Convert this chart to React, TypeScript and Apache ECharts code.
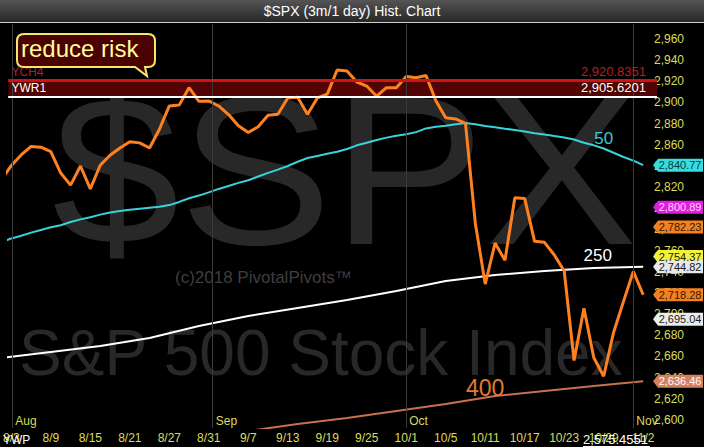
import React, { useEffect, useRef } from "react";
import * as echarts from "echarts";

// ---------- data ----------
const dates = [
  "8/2", "8/3", "8/6", "8/7", "8/8", "8/9", "8/10", "8/13", "8/14", "8/15", "8/16", "8/17",
  "8/20", "8/21", "8/22", "8/23", "8/24", "8/27", "8/28", "8/29", "8/30", "8/31",
  "9/4", "9/5", "9/6", "9/7", "9/10", "9/11", "9/12", "9/13", "9/14", "9/17", "9/18", "9/19",
  "9/20", "9/21", "9/24", "9/25", "9/26", "9/27", "9/28",
  "10/1", "10/2", "10/3", "10/4", "10/5", "10/8", "10/9", "10/10", "10/11", "10/12",
  "10/15", "10/16", "10/17", "10/18", "10/19", "10/22", "10/23", "10/24", "10/25", "10/26",
  "10/29", "10/30", "10/31", "11/1", "11/2",
];

const closes = [
  2827.22, 2840.35, 2850.4, 2858.45, 2857.7, 2853.58, 2833.28, 2821.93, 2839.96, 2818.37, 2840.69, 2850.13,
  2857.05, 2862.96, 2861.82, 2856.98, 2874.69, 2896.74, 2897.52, 2914.04, 2901.13, 2901.52,
  2896.72, 2888.6, 2878.05, 2871.68, 2877.13, 2887.89, 2888.92, 2904.18, 2904.98, 2888.8, 2904.31, 2907.95,
  2930.75, 2929.67, 2919.37, 2915.56, 2905.97, 2914.0, 2913.98,
  2924.59, 2923.43, 2925.51, 2901.61, 2885.57, 2884.43, 2880.34, 2785.68, 2728.37, 2767.13,
  2750.79, 2809.92, 2809.21, 2768.78, 2767.78, 2755.88, 2740.69, 2656.1, 2705.57, 2658.69,
  2641.25, 2682.63, 2711.74, 2740.37, 2718.28,
];

const ma50 = [
  2768, 2771.5, 2774, 2777, 2779.5, 2782, 2784, 2787, 2789.5, 2791.5, 2794, 2796, 2797.5, 2798.5,
  2799.5, 2800.5, 2801.5, 2803, 2806, 2809.5, 2812, 2815,
  2818.3, 2821, 2824, 2826.5, 2830, 2833.5, 2836.5, 2840, 2844, 2847.5, 2849.5, 2851.5, 2853.5, 2856,
  2859.5, 2862, 2864.5, 2866.8, 2868.5, 2870,
  2872, 2875.5, 2877, 2878, 2879.5, 2880.6, 2879.5, 2877.8, 2876.5, 2875.2, 2874, 2872.5, 2871,
  2869.8, 2868.3, 2867, 2865, 2862, 2859.5, 2856.5, 2852.5, 2848.5, 2845, 2840.77,
];

const ma250Points: [string, number][] = [
  ["8/2", 2658.5], ["8/9", 2664.2], ["8/16", 2669.8], ["8/23", 2677.4], ["8/30", 2688.7],
  ["9/7", 2698.2], ["9/14", 2705.7], ["9/21", 2713.3], ["9/28", 2721.8], ["10/5", 2731.3],
  ["10/12", 2737.0], ["10/19", 2740.7], ["10/26", 2743.6], ["11/2", 2744.82],
];

const ma400Points: [string, number][] = [
  ["9/7", 2589.5], ["9/14", 2596.1], ["9/21", 2601.8], ["9/28", 2608.4], ["10/5", 2615.0],
  ["10/12", 2622.6], ["10/19", 2627.3], ["10/26", 2632.0], ["11/2", 2636.46],
];

const xTickDates = ["8/3", "8/9", "8/15", "8/21", "8/27", "8/31", "9/7", "9/13", "9/19", "9/25",
  "10/1", "10/5", "10/11", "10/17", "10/23", "10/29", "11/2"];

const yTicks = [2600, 2620, 2640, 2660, 2680, 2700, 2720, 2740, 2760, 2780, 2800, 2820, 2840,
  2860, 2880, 2900, 2920, 2940, 2960];

const months = ["Aug", "Sep", "Oct", "Nov"];
const monthLineAt = [1.1, 21.4, 41, 64]; // trading-day positions

const levelYCH4 = 2920.8351;
const levelYWR1 = 2905.6201;
const levelYWP = 2575.4551;

const badgeValues = [2840.77, 2800.89, 2782.23, 2754.37, 2744.82, 2718.28, 2695.04, 2636.46];

// ---------- styles ----------
const FONT = '"Liberation Sans", Arial, sans-serif';
const AXIS_YELLOW = "#dcdc5a";
const badgeStyles = [
  { bg: "#36dde0", fg: "#0a3a3c" },
  { bg: "#e01ee0", fg: "#ffd8ff" },
  { bg: "#f08020", fg: "#3a1800" },
  { bg: "#f2f23c", fg: "#202000" },
  { bg: "#e8e8e8", fg: "#202020" },
  { bg: "#f08020", fg: "#3a1800" },
  { bg: "#ececec", fg: "#202020" },
  { bg: "#d4805c", fg: "#ffffff" },
];

const X_MIN = 0.7;
const X_MAX = 66.4;
const Y_MIN = 2592.3;
const Y_MAX = 2974.2;

const fmt2 = (v: number) => v.toLocaleString("en-US", { minimumFractionDigits: 2, maximumFractionDigits: 2 });
const fmt4 = (v: number) => v.toLocaleString("en-US", { minimumFractionDigits: 4, maximumFractionDigits: 4 });

const CALLOUT_D =
  "M7 0 H131 Q138 0 138 7 V26 Q138 33 131 33 H128 L130 42 L118 33 H7 Q0 33 0 26 V7 Q0 0 7 0 Z";

export default function App() {
  const ref = useRef<HTMLDivElement>(null);

  useEffect(() => {
    if (!ref.current) return;
    echarts.graphic.registerShape("callout", echarts.graphic.extendPath(CALLOUT_D, {}));
    const chart = echarts.init(ref.current, null, { renderer: "svg" });

    const idx = (d: string) => dates.indexOf(d);

    const option: any = {
      animation: false,
      backgroundColor: "#000000",
      grid: { left: 0, right: 47, top: 24, bottom: 19 },
      xAxis: {
        type: "value",
        min: X_MIN,
        max: X_MAX,
        axisLine: { show: false },
        axisTick: { show: false },
        splitLine: { show: false },
        axisLabel: {
          customValues: xTickDates.map(idx),
          formatter: (v: number) => dates[Math.round(v)],
          color: AXIS_YELLOW,
          fontSize: 12,
          fontFamily: FONT,
          margin: 4,
        },
      },
      yAxis: {
        type: "value",
        position: "right",
        min: Y_MIN,
        max: Y_MAX,
        axisLine: { show: false },
        axisTick: { show: false },
        splitLine: { show: false },
        axisLabel: {
          customValues: yTicks,
          formatter: (v: number) => v.toLocaleString("en-US"),
          color: AXIS_YELLOW,
          fontSize: 12,
          fontFamily: FONT,
          margin: -3,
        },
      },
      graphic: [
        {
          type: "text", x: 52, y: 170, z: 0, scaleX: 1.08,
          style: { text: "$SPX", font: `212px ${FONT}`, fill: "#282828", verticalAlign: "middle", align: "left" },
        },
        {
          type: "text", x: 19, y: 353, z: 0,
          style: { text: "S&P 500 Stock Index", font: `64px ${FONT}`, fill: "#282828", verticalAlign: "middle", align: "left" },
        },
        {
          type: "text", x: 175, y: 277, z: 0,
          style: { text: "(c)2018 PivotalPivots\u2122", font: `17px ${FONT}`, fill: "#3e3e3e", verticalAlign: "middle", align: "left" },
        },
        {
          type: "rect", z: 50, shape: { x: 0, y: 0, width: 704, height: 22 },
          style: {
            fill: new echarts.graphic.LinearGradient(0, 0, 0, 1, [
              { offset: 0, color: "#555555" },
              { offset: 1, color: "#262626" },
            ]),
          },
        },
        { type: "rect", z: 51, shape: { x: 0, y: 22, width: 704, height: 1 }, style: { fill: "#cfcfcf" } },
        {
          type: "text", x: 352, y: 11, z: 52,
          style: { text: "$SPX (3m/1 day) Hist. Chart", font: `14px ${FONT}`, fill: "#ffffff", align: "center", verticalAlign: "middle" },
        },
        {
          type: "callout", x: 17, y: 34, z: 60,
          style: { fill: "#4a0202", stroke: "#f4e868", lineWidth: 2 },
        },
        {
          type: "text", x: 21, y: 48, z: 61,
          style: { text: "reduce risk", font: `24px ${FONT}`, fill: "#ffff96", align: "left", verticalAlign: "middle" },
        },
        {
          type: "text", x: 3, y: 440, z: 61,
          style: { text: "YWP", font: `12px ${FONT}`, fill: "#ffffff", align: "left", verticalAlign: "middle" },
        },
        {
          type: "text", x: 648, y: 439, z: 61,
          style: { text: fmt4(levelYWP), font: `13px ${FONT}`, fill: "#ffffff", align: "right", verticalAlign: "middle" },
        },
        { type: "rect", z: 61, shape: { x: 583, y: 446, width: 67, height: 1 }, style: { fill: "#ffffff" } },
      ],
      series: [
        {
          name: "levels",
          type: "line",
          data: [],
          z: 1,
          markArea: {
            silent: true,
            itemStyle: { color: "#520303" },
            data: [[{ yAxis: levelYWR1 }, { yAxis: levelYCH4 }]],
          },
          markLine: {
            silent: true,
            symbol: "none",
            animation: false,
            data: [
              ...monthLineAt.map((p) => ({
                xAxis: p,
                lineStyle: { color: "#3a3a3a", width: 1, type: "solid" },
                label: { show: false },
              })),
              {
                yAxis: levelYCH4,
                lineStyle: { color: "#cc1515", width: 3, type: "solid" },
                label: { show: true, position: "insideStartTop", formatter: "YCH4", color: "#b81e1e", fontSize: 12, fontFamily: FONT, distance: [3, 2] },
              },
              {
                yAxis: levelYCH4,
                lineStyle: { color: "#cc1515", width: 3, type: "solid" },
                label: { show: true, position: "insideEndTop", formatter: fmt4(levelYCH4), color: "#b81e1e", fontSize: 13, fontFamily: FONT, distance: [11, 2] },
              },
              {
                yAxis: levelYWR1,
                lineStyle: { color: "#ffffff", width: 2, type: "solid" },
                label: { show: true, position: "insideStartTop", formatter: "YWR1", color: "#ffffff", fontSize: 12, fontFamily: FONT, distance: [3, 3] },
              },
              {
                yAxis: levelYWR1,
                lineStyle: { color: "#ffffff", width: 2, type: "solid" },
                label: { show: true, position: "insideEndTop", formatter: fmt4(levelYWR1), color: "#ffffff", fontSize: 13, fontFamily: FONT, distance: [11, 3] },
              },
            ],
          },
          markPoint: {
            silent: true,
            symbol: "circle",
            symbolSize: 0,
            data: months.map((m, i) => ({
              name: m,
              coord: [monthLineAt[i], 2598.9],
              label: { show: true, position: "right", distance: 3, formatter: m, color: AXIS_YELLOW, fontSize: 12, fontFamily: FONT },
            })),
          },
        },
        {
          name: "MA400",
          type: "line",
          z: 2,
          symbol: "none",
          data: ma400Points.map(([d, v]) => [idx(d), v]),
          lineStyle: { color: "#c8714c", width: 2 },
          markPoint: {
            silent: true, symbol: "circle", symbolSize: 0,
            data: [{ coord: [idx("10/11"), 2630.1], label: { show: true, position: "inside", formatter: "400", color: "#e8782c", fontSize: 23, fontFamily: FONT } }],
          },
        },
        {
          name: "MA250",
          type: "line",
          z: 2,
          symbol: "none",
          data: ma250Points.map(([d, v]) => [idx(d), v]),
          lineStyle: { color: "#ffffff", width: 2 },
          markPoint: {
            silent: true, symbol: "circle", symbolSize: 0,
            data: [{ coord: [60.4, 2754.9], label: { show: true, position: "inside", formatter: "250", color: "#ffffff", fontSize: 17, fontFamily: FONT } }],
          },
        },
        {
          name: "MA50",
          type: "line",
          z: 2,
          symbol: "none",
          data: ma50.map((v, i) => [i, v]),
          lineStyle: { color: "#38d2da", width: 2 },
          markPoint: {
            silent: true, symbol: "circle", symbolSize: 0,
            data: [{ coord: [61, 2866.4], label: { show: true, position: "inside", formatter: "50", color: "#3ccad2", fontSize: 17, fontFamily: FONT } }],
          },
        },
        {
          name: "$SPX",
          type: "line",
          z: 3,
          symbol: "none",
          data: closes.map((v, i) => [i, v]),
          lineStyle: { color: "#ff801f", width: 3 },
        },
        {
          name: "badges",
          type: "line",
          z: 4,
          data: [],
          markPoint: {
            silent: true,
            data: badgeValues.map((v, i) => ({
              coord: [66.0, v],
              symbol: "path://M0,6 L5,0 L50,0 L50,12 L5,12 Z",
              symbolSize: [50, 13],
              symbolKeepAspect: false,
              symbolOffset: [25, 0],
              itemStyle: { color: badgeStyles[i].bg },
              label: {
                show: true,
                position: "inside",
                formatter: fmt2(v),
                color: badgeStyles[i].fg,
                fontSize: 11,
                fontFamily: FONT,
                offset: [2, 0],
              },
            })),
          },
        },
      ],
    };

    chart.setOption(option);
    return () => chart.dispose();
  }, []);

  return (
    <div
      ref={ref}
      style={{ position: "absolute", left: 0, top: 0, width: 704, height: 447, background: "#000" }}
    />
  );
}
